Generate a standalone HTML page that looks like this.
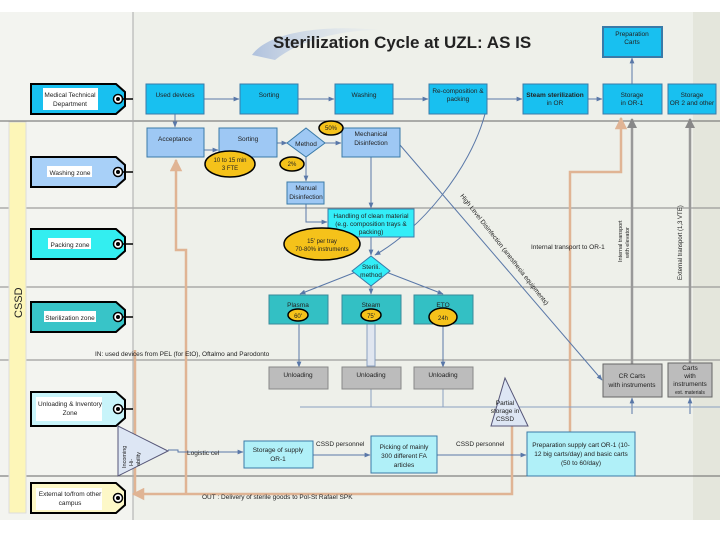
<!DOCTYPE html>
<html><head><meta charset="utf-8"><style>
html,body{margin:0;padding:0;background:#fff}
svg{display:block}
text{font-family:"Liberation Sans",sans-serif;fill:#222}
</style></head><body>
<svg width="720" height="540" viewBox="0 0 720 540" xmlns="http://www.w3.org/2000/svg">
<defs>
<marker id="a" viewBox="0 0 10 10" refX="9" refY="5" markerWidth="6" markerHeight="6" orient="auto"><path d="M0,1L10,5L0,9z" fill="#5a78a8"/></marker>
<marker id="o" viewBox="0 0 10 10" refX="9" refY="5" markerWidth="5" markerHeight="5" orient="auto"><path d="M0,0L10,5L0,10z" fill="#e0b494"/></marker>
<marker id="g" viewBox="0 0 10 10" refX="9" refY="5" markerWidth="4" markerHeight="4" orient="auto"><path d="M0,0L10,5L0,10z" fill="#888"/></marker>
<linearGradient id="sw" x1="0" x2="1"><stop offset="0" stop-color="#a8bcdc" stop-opacity="0.9"/><stop offset="1" stop-color="#dfe6ef" stop-opacity="0.2"/></linearGradient>
</defs>
<rect x="0" y="12" width="720" height="508" fill="#eef0ea"/>
<rect x="0" y="12" width="133" height="508" fill="#f3f4f0"/>
<rect x="693" y="12" width="27" height="508" fill="#e4e6dc"/>
<!-- swoosh -->
<path d="M252,55 C270,30 330,25 380,30 C340,30 300,40 275,60 Z" fill="url(#sw)"/>
<text x="273" y="48" font-size="17" font-weight="bold" fill="#111">Sterilization Cycle at UZL: AS IS</text>
<!-- lane lines -->
<g stroke="#666" stroke-width="1">
<line x1="0" y1="121" x2="720" y2="121"/>
<line x1="0" y1="208" x2="720" y2="208" stroke="#888"/>
<line x1="0" y1="287" x2="720" y2="287" stroke="#888"/>
<line x1="0" y1="360" x2="720" y2="360" stroke="#888"/>
<line x1="0" y1="476" x2="720" y2="476"/>
<line x1="133" y1="12" x2="133" y2="520" stroke="#aaa"/>
</g>
<!-- CSSD bar -->
<rect x="9" y="122" width="17" height="391" fill="#fdf6b8" stroke="#ddd"/>
<text transform="translate(22,318) rotate(-90)" font-size="11" fill="#333">CSSD</text>
<!-- tags -->
<g stroke="#000" stroke-width="2">
<path d="M31,84H116L125,92V106L116,114H31Z" fill="#18c0f0"/>
<path d="M31,157H116L125,165V179L116,187H31Z" fill="#a8d0f8"/>
<path d="M31,229H116L125,237V251L116,259H31Z" fill="#33eef0"/>
<path d="M31,302H116L125,310V324L116,332H31Z" fill="#38c4c8"/>
<path d="M31,392H116L125,400V418L116,426H31Z" fill="#c8f4fa"/>
<path d="M31,483H116L125,491V505L116,513H31Z" fill="#fdf8c8"/>
</g>
<g fill="#fff"><rect x="43" y="88" width="55" height="22"/><rect x="47" y="166" width="45" height="11"/><rect x="48" y="238" width="43" height="11"/><rect x="44" y="311" width="52" height="11"/><rect x="36" y="397" width="66" height="24"/><rect x="36" y="488" width="66" height="22"/></g>
<g font-size="6.5" text-anchor="middle">
<text x="70" y="97">Medical Technical</text><text x="70" y="106">Department</text>
<text x="70" y="175">Washing zone</text>
<text x="70" y="247">Packing zone</text>
<text x="70" y="320">Sterilization zone</text>
<text x="70" y="406">Unloading &amp; Inventory</text><text x="70" y="415">Zone</text>
<text x="70" y="496">External to/from other</text><text x="70" y="505">campus</text>
</g>
<g fill="#fff" stroke="#000" stroke-width="1.5">
<circle cx="118" cy="99" r="4.5"/><circle cx="118" cy="172" r="4.5"/><circle cx="118" cy="244" r="4.5"/><circle cx="118" cy="317" r="4.5"/><circle cx="118" cy="409" r="4.5"/><circle cx="118" cy="498" r="4.5"/>
</g>
<g fill="#000"><circle cx="118" cy="99" r="2"/><circle cx="118" cy="172" r="2"/><circle cx="118" cy="244" r="2"/><circle cx="118" cy="317" r="2"/><circle cx="118" cy="409" r="2"/><circle cx="118" cy="498" r="2"/></g>
<g stroke="#000" stroke-width="1.5"><line x1="123" y1="99" x2="133" y2="99"/><line x1="123" y1="172" x2="133" y2="172"/><line x1="123" y1="244" x2="133" y2="244"/><line x1="123" y1="317" x2="133" y2="317"/><line x1="123" y1="409" x2="133" y2="409"/></g>

<!-- orange lines -->
<g fill="none" stroke="#e0b494" stroke-width="2.5">
<path d="M512,426V494H133" marker-end="url(#o)"/>
<path d="M186,494V250H176V160" marker-end="url(#o)"/>
<line x1="135" y1="350" x2="135" y2="494"/>
<path d="M570,436V172H621V118" marker-end="url(#o)"/>
</g>
<!-- gray transport lines -->
<g stroke="#999" stroke-width="2.5" fill="none">
<line x1="632" y1="364" x2="632" y2="119" marker-end="url(#g)"/>
<line x1="690" y1="363" x2="690" y2="119" marker-end="url(#g)"/>
</g>
<!-- blue connectors -->
<g stroke="#5a78a8" stroke-width="1" fill="none" marker-end="url(#a)">
<line x1="204" y1="99" x2="239" y2="99"/>
<line x1="298" y1="99" x2="334" y2="99"/>
<line x1="393" y1="99" x2="428" y2="99"/>
<line x1="487" y1="99" x2="522" y2="99"/>
<line x1="588" y1="99" x2="602" y2="99"/>
<line x1="632" y1="84" x2="632" y2="58"/>
<line x1="175" y1="114" x2="175" y2="127"/>
<line x1="204" y1="150" x2="218" y2="150"/>
<line x1="277" y1="143" x2="287" y2="143"/>
<line x1="325" y1="143" x2="341" y2="143"/>
<line x1="306" y1="157" x2="306" y2="181"/>
<path d="M306,204V222H327"/>
<line x1="371" y1="157" x2="371" y2="208"/>
<line x1="371" y1="237" x2="371" y2="255"/>
<line x1="356" y1="272" x2="300" y2="294"/>
<line x1="371" y1="286" x2="371" y2="294"/>
<line x1="386" y1="272" x2="443" y2="294"/>
<line x1="299" y1="324" x2="299" y2="367"/>
<line x1="443" y1="324" x2="443" y2="367"/>
<line x1="400" y1="145" x2="602" y2="380"/>
<path d="M485,114C470,170 420,230 375,255"/>
<path d="M168,450H178V452H243"/>
<line x1="313" y1="455" x2="370" y2="455"/>
<line x1="437" y1="455" x2="526" y2="455"/>
<line x1="632" y1="414" x2="632" y2="398"/>
<line x1="690" y1="414" x2="690" y2="398"/>
</g>
<g stroke="#8aa0c0" stroke-width="1" fill="none">
<line x1="300" y1="407" x2="720" y2="407"/>
<line x1="371" y1="389" x2="371" y2="407"/><line x1="443" y1="389" x2="443" y2="407"/>
</g>
<rect x="367" y="324" width="8" height="42" fill="#e0e6f0" stroke="#8aa0c0"/>

<!-- boxes top lane -->
<g fill="#18c0f0" stroke="#3a7aa8" stroke-width="1">
<rect x="146" y="84" width="58" height="30"/><rect x="240" y="84" width="58" height="30"/><rect x="335" y="84" width="58" height="30"/>
<rect x="429" y="84" width="58" height="30"/><rect x="523" y="84" width="65" height="30"/><rect x="603" y="84" width="59" height="30"/>
<rect x="668" y="84" width="48" height="30"/><rect x="603" y="27" width="59" height="30" stroke-width="2"/>
</g>
<g fill="#9ec8f4" stroke="#3a7aa8">
<rect x="147" y="128" width="57" height="29"/><rect x="219" y="128" width="58" height="29"/>
<path d="M306,128L325,143L306,157L287,143Z"/>
<rect x="342" y="128" width="58" height="29"/><rect x="287" y="182" width="37" height="22"/>
</g>
<rect x="328" y="209" width="86" height="28" fill="#33eef8" stroke="#3a7aa8"/>
<path d="M371,256L390,271L371,286L352,271Z" fill="#33eef8" stroke="#3a7aa8"/>
<g fill="#33c0c4" stroke="#3a8a9a"><rect x="269" y="295" width="59" height="29"/><rect x="342" y="295" width="59" height="29"/><rect x="414" y="295" width="59" height="29"/></g>
<g fill="#bcbcbc" stroke="#888"><rect x="269" y="367" width="59" height="22"/><rect x="342" y="367" width="59" height="22"/><rect x="414" y="367" width="59" height="22"/>
<rect x="603" y="364" width="59" height="33" stroke="#666"/><rect x="668" y="363" width="44" height="34" stroke="#666"/></g>
<g fill="#b0f0f8" stroke="#3a7aa8"><rect x="244" y="441" width="69" height="27"/><rect x="371" y="436" width="66" height="37"/><rect x="527" y="432" width="108" height="44"/></g>
<path d="M505,378L528,426H491Z" fill="#dde6f4" stroke="#557"/>
<path d="M118,426L168,451L118,476Z" fill="#dde6f4" stroke="#557"/>

<!-- clouds -->
<g fill="#f5c21a" stroke="#000" stroke-width="1.5">
<ellipse cx="230" cy="164" rx="25" ry="13"/><ellipse cx="331" cy="128" rx="12" ry="7"/><ellipse cx="292" cy="164" rx="12" ry="7"/>
<ellipse cx="322" cy="244" rx="38" ry="16"/><ellipse cx="298" cy="315" rx="10" ry="6"/><ellipse cx="371" cy="315" rx="10" ry="6"/><ellipse cx="443" cy="317" rx="14" ry="9"/>
</g>
<!-- text -->
<g font-size="6.5" text-anchor="middle">
<text x="175" y="97">Used devices</text><text x="269" y="97">Sorting</text><text x="364" y="97">Washing</text>
<text x="458" y="93">Re-composition &amp;</text><text x="458" y="101">packing</text>
<text x="555" y="97" font-weight="bold">Steam sterilization</text><text x="555" y="105">in OR</text>
<text x="632" y="97">Storage</text><text x="632" y="105">in OR-1</text>
<text x="692" y="97">Storage</text><text x="692" y="105">OR 2 and other</text>
<text x="632" y="36">Preparation</text><text x="632" y="44">Carts</text>
<text x="175" y="141">Acceptance</text><text x="248" y="141">Sorting</text><text x="306" y="146">Method</text>
<text x="371" y="136">Mechanical</text><text x="371" y="145">Disinfection</text>
<text x="306" y="190">Manual</text><text x="306" y="199">Disinfection</text>
<text x="371" y="218">Handling of clean material</text><text x="371" y="226">(e.g. composition trays &amp;</text><text x="371" y="234">packing)</text>
<text x="371" y="269">Sterili.</text><text x="371" y="277">method</text>
<text x="298" y="307">Plasma</text><text x="371" y="307">Steam</text><text x="443" y="307">ETO</text>
<text x="298" y="377">Unloading</text><text x="371" y="377">Unloading</text><text x="443" y="377">Unloading</text>
<text x="632" y="378">CR Carts</text><text x="632" y="387">with instruments</text>
<text x="690" y="370">Carts</text><text x="690" y="378">with</text><text x="690" y="386">instruments</text><text x="690" y="394" font-size="5">ext. materials</text>
<text x="505" y="405">Partial</text><text x="505" y="413">storage in</text><text x="505" y="421">CSSD</text>
<text x="278" y="452">Storage of supply</text><text x="278" y="461">OR-1</text>
<text x="404" y="449">Picking of mainly</text><text x="404" y="458">300 different FA</text><text x="404" y="467">articles</text>
<text x="581" y="447">Preparation supply cart OR-1 (10-</text><text x="581" y="456">12 big carts/day) and basic carts</text><text x="581" y="465">(50 to 60/day)</text>
<text x="230" y="162" font-size="6">10 to 15 min</text><text x="230" y="170" font-size="6">3 FTE</text>
<text x="331" y="130" font-size="6">50%</text><text x="292" y="166" font-size="6">2%</text>
<text x="322" y="243" font-size="6">15' per tray</text><text x="322" y="251" font-size="6">70-80% instruments</text>
<text x="298" y="318" font-size="6">60'</text><text x="371" y="318" font-size="6">75'</text><text x="443" y="320" font-size="6">24h</text>
</g>
<g font-size="6.5">
<text x="95" y="356">IN: used devices from PEL (for EtO), Oftalmo and Parodonto</text>
<text x="187" y="455">Logistic cel</text>
<text x="316" y="446">CSSD personnel</text>
<text x="456" y="446">CSSD personnel</text>
<text x="202" y="499">OUT : Delivery of sterile goods to Pol-St Rafael SPK</text>
<text x="531" y="249">Internal transport to OR-1</text>
<text transform="translate(460,196) rotate(52)">High Level Disinfection (anesthesia equipments)</text>
<text transform="translate(622,262) rotate(-90)" font-size="5.5">Internal transport</text>
<text transform="translate(629,258) rotate(-90)" font-size="5.5">with elevator</text>
<text transform="translate(682,280) rotate(-90)" font-size="6">External transport (1,3 VTE)</text>
<text transform="translate(126,468) rotate(-90)" font-size="5.5">Incoming</text>
<text transform="translate(133,466) rotate(-90)" font-size="5.5">Hi-</text>
<text transform="translate(140,466) rotate(-90)" font-size="5.5">ability</text>
</g>
</svg>
</body></html>
